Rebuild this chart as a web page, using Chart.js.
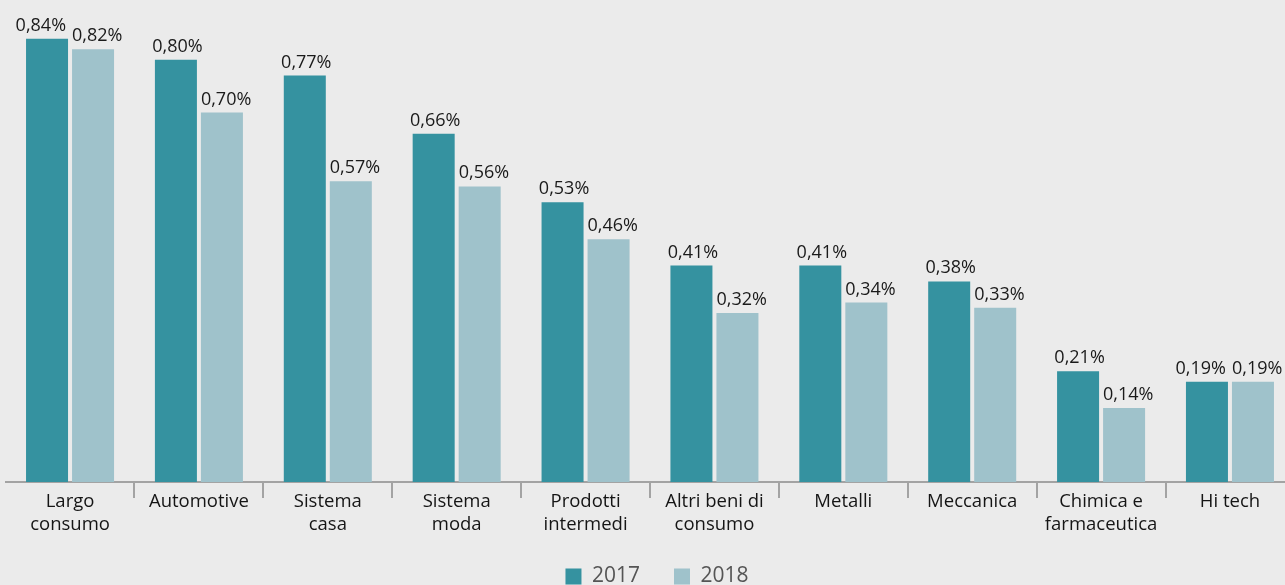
<!DOCTYPE html>
<html>
<head>
<meta charset="utf-8">
<script src="https://cdn.jsdelivr.net/npm/chart.js@4"></script>
<style>
  html, body { margin: 0; padding: 0; background: #ebebeb; overflow: hidden; }
  #wrap { position: absolute; left: 0; top: 0; width: 1314px; height: 597px; }
</style>
</head>
<body>
<div id="wrap"><canvas id="c" width="1314" height="597"></canvas></div>
<script>
const categories = [
  ["Largo", "consumo"], "Automotive", ["Sistema", "casa"], ["Sistema", "moda"],
  ["Prodotti", "intermedi"], ["Altri beni di", "consumo"], "Metalli", "Meccanica",
  ["Chimica e", "farmaceutica"], "Hi tech"
];
const seriesNames = ["2017", "2018"];
const values2017 = [0.84, 0.80, 0.77, 0.66, 0.53, 0.41, 0.41, 0.38, 0.21, 0.19];
const values2018 = [0.82, 0.70, 0.57, 0.56, 0.46, 0.32, 0.34, 0.33, 0.14, 0.19];
const colors = ["#3592a0", "#9fc2cb"];

function fmt(v) { return v.toFixed(2).replace('.', ',') + '%'; }

const labelPlugin = {
  id: 'barLabels',
  afterDatasetsDraw(chart) {
    const ctx = chart.ctx;
    const m0 = chart.getDatasetMeta(0).data;
    const m1 = chart.getDatasetMeta(1).data;
    ctx.save();
    ctx.font = '18px "Open Sans"';
    ctx.fillStyle = '#1a1a1a';
    ctx.textBaseline = 'alphabetic';
    for (let i = 0; i < m0.length; i++) {
      const b0 = m0[i], b1 = m1[i];
      const v0 = chart.data.datasets[0].data[i];
      const v1 = chart.data.datasets[1].data[i];
      const close = Math.abs(b0.y - b1.y) < 22;
      if (close) {
        ctx.textAlign = 'right';
        ctx.fillText(fmt(v0), b0.x + b0.width / 2 - 2, b0.y - 8);
      } else {
        ctx.textAlign = 'center';
        ctx.fillText(fmt(v0), b0.x + 1.5, b0.y - 8);
      }
      ctx.textAlign = 'left';
      ctx.fillText(fmt(v1), b1.x - b1.width / 2, b1.y - 8);
    }
    ctx.restore();
  }
};

const axisColor = '#a3a3a3';

new Chart(document.getElementById('c'), {
  type: 'bar',
  data: {
    labels: categories,
    datasets: [
      { label: seriesNames[0], data: values2017, backgroundColor: colors[0],
        categoryPercentage: 0.714, barPercentage: 0.913 },
      { label: seriesNames[1], data: values2018, backgroundColor: colors[1],
        categoryPercentage: 0.714, barPercentage: 0.913 }
    ]
  },
  options: {
    responsive: false,
    devicePixelRatio: 1,
    animation: false,
    layout: { padding: { left: 5.6, right: 5.6, top: 7, bottom: 0 } },
    plugins: {
      tooltip: { enabled: false },
      legend: {
        position: 'bottom',
        labels: {
          boxWidth: 16, boxHeight: 16, padding: 34,
          color: '#555555',
          font: { family: '"Open Sans"', size: 21 }
        }
      }
    },
    scales: {
      x: {
        grid: {
          drawOnChartArea: false, drawTicks: true, tickLength: 16, lineWidth: 2,
          offset: true,
          color: (c) => (c.index === 0 || c.index >= categories.length) ? 'rgba(0,0,0,0)' : axisColor
        },
        border: { display: true, color: axisColor, width: 2 },
        ticks: {
          color: '#151515', font: { family: '"Open Sans"', size: 18.5, lineHeight: 1.2 },
          padding: -7, maxRotation: 0, autoSkip: false
        },
        afterFit: (s) => { s.height = 50; }
      },
      y: {
        position: 'right',
        min: 0, max: 0.9,
        grid: { display: false },
        border: { display: false },
        ticks: { display: false },
        afterFit: (s) => { s.width = 14; }
      }
    }
  },
  plugins: [labelPlugin]
});
</script>
</body>
</html>
